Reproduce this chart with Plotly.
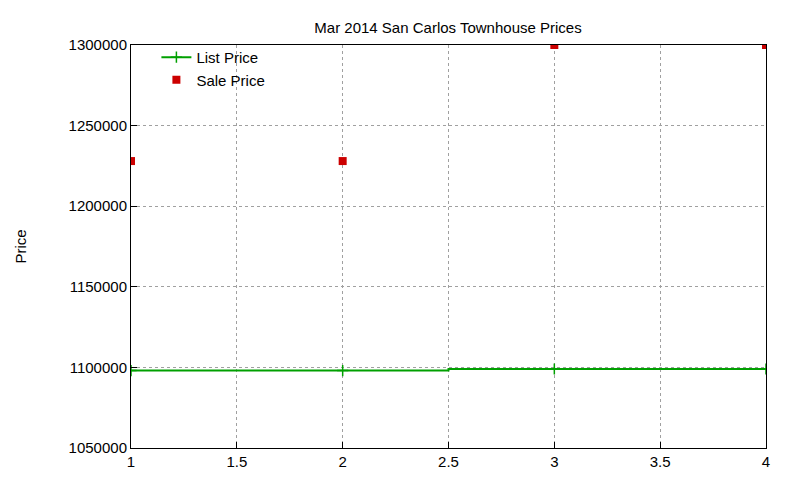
import plotly.graph_objects as go

x = [1, 2, 3, 4]
list_price = [1098000, 1098000, 1099000, 1099000]
sale_price = [1228000, 1228000, 1300000, 1300000]

fig = go.Figure()
fig.add_trace(go.Scatter(x=x, y=list_price, name="List Price", mode="lines+markers",
                         line=dict(color="#00a000", width=2, shape="hvh"),
                         marker=dict(symbol="cross-thin", size=8, line=dict(color="#00a000", width=1.5))))
fig.add_trace(go.Scatter(x=x, y=sale_price, name="Sale Price", mode="markers",
                         marker=dict(symbol="square", size=8, color="#cc0000")))

ax = dict(showline=True, mirror=True, linecolor="black", linewidth=1,
          ticks="inside", ticklen=6, tickcolor="black",
          showgrid=True, gridcolor="#a0a0a0", griddash="dot", zeroline=False,
          tickfont=dict(size=15, color="black"))
fig.update_xaxes(range=[1, 4], dtick=0.5, **ax)
fig.update_yaxes(range=[1050000, 1300000], dtick=50000, tickformat="d",
                 title=dict(text="Price", font=dict(size=15, color="black"), standoff=38), **ax)
fig.update_layout(
    width=800, height=480, plot_bgcolor="white", paper_bgcolor="white",
    font=dict(family="Liberation Sans, Arial", color="black"),
    title=dict(text="Mar 2014 San Carlos Townhouse Prices", x=0.55, y=0.97,
               font=dict(size=15, color="black")),
    margin=dict(l=112, r=42, t=37, b=40),
    legend=dict(x=0.04, y=1.01, bgcolor="rgba(0,0,0,0)", font=dict(size=15)),
)
fig.write_html("out.html")
